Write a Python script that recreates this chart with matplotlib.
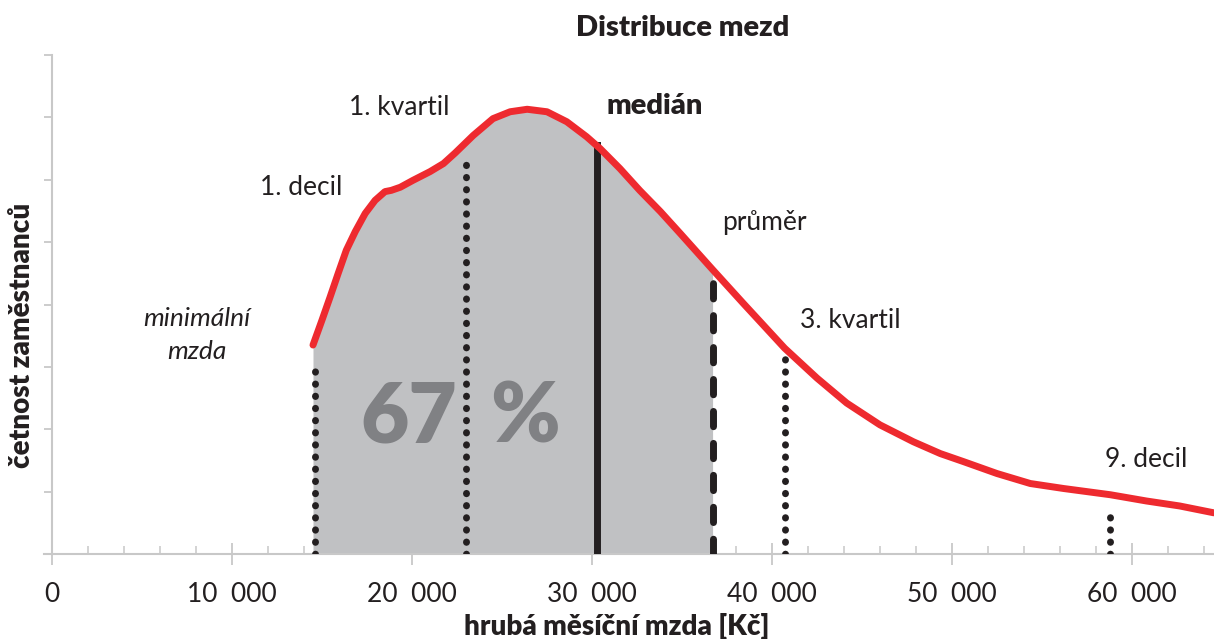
import numpy as np
import matplotlib
matplotlib.use('Agg')
import matplotlib.pyplot as plt

plt.rcParams['font.family'] = ['Lato', 'DejaVu Sans']

# wage distribution curve (Kč, relative frequency)
wage = [14500, 15000, 15450, 15900, 16350, 16850, 17400, 17950, 18500, 18850,
        19350, 20050, 21000, 21750, 22400, 23400, 24500, 25450, 26400, 27500,
        28600, 29700, 30450, 31550, 32650, 33800, 34900, 36700, 38400, 40700,
        42500, 44150, 46000, 47850, 49350, 50650, 52500, 54350, 56200, 58800,
        60800, 62650, 64550]
freq = [3.35, 3.75, 4.12, 4.50, 4.87, 5.17, 5.46, 5.67, 5.81, 5.83,
        5.88, 5.99, 6.13, 6.26, 6.43, 6.71, 6.98, 7.09, 7.13, 7.09,
        6.93, 6.69, 6.50, 6.18, 5.83, 5.49, 5.14, 4.56, 4.02, 3.30,
        2.82, 2.42, 2.07, 1.80, 1.61, 1.48, 1.29, 1.13, 1.05, 0.95,
        0.85, 0.77, 0.66]

# marker lines: 1. decil, 1. kvartil, median, prumer, 3. kvartil, 9. decil
marker_x = [14600, 23000, 30300, 36700, 40750, 58800]
marker_top = [3.08, 6.35, 6.55, 4.39, 3.29, 0.77]
mean_wage = 36700

xticks = [0, 10000, 20000, 30000, 40000, 50000, 60000]
xtick_labels = ['0', '10  000', '20  000', '30  000', '40  000', '50  000', '60  000']

red = '#ee2a2f'
dark = '#231f20'
axis_grey = '#c8c8c8'

fig = plt.figure(figsize=(12.14, 6.39), dpi=100)
ax = fig.add_axes([43.9 / 1214, 85 / 639, (1214 - 43.9) / 1214, 499 / 639])
ax.set_xlim(-450, 64556)
ax.set_ylim(0, 8)
ax.set_axisbelow(True)

w = np.array(wage)
f = np.array(freq)
mask = w <= mean_wage
ax.fill_between(w[mask], 0, f[mask], color='#c0c1c3', linewidth=0, zorder=1)

dotted = (0, (0.05, 1.7))
styles = [dotted, dotted, '-', (0, (2.2, 2.4)), dotted, dotted]
widths = [5, 5, 5, 5, 5, 5]
for xv, top, ls, lw in zip(marker_x, marker_top, styles, widths):
    ax.plot([xv, xv], [0, top], color=dark, linestyle=ls, linewidth=lw,
            dash_capstyle='round' if ls != '-' else 'butt', zorder=3)

ax.plot(wage, freq, color=red, linewidth=5, solid_capstyle='round',
        solid_joinstyle='round', zorder=4, clip_on=False)

# axes styling
for s in ['top', 'right']:
    ax.spines[s].set_visible(False)
ax.spines['left'].set_position(('data', 0))
for s in ['left', 'bottom']:
    ax.spines[s].set_color(axis_grey)
    ax.spines[s].set_linewidth(1.5)

ax.set_yticks(range(0, 9))
ax.set_yticklabels([])
ax.tick_params(axis='y', direction='out', length=6, width=1.3, color=axis_grey)

ax.set_xticks(xticks)
ax.set_xticklabels(xtick_labels, fontsize=19, color=dark)
ax.set_xticks(np.arange(2000, 64556, 2000), minor=True)
ax.tick_params(axis='x', which='major', direction='inout', length=16, width=1.3,
               color=axis_grey, pad=12)
ax.tick_params(axis='x', which='minor', direction='in', length=6, width=1.1,
               color=axis_grey)

# annotations
lab = dict(fontsize=19, color=dark, va='center')
ax.text(16111, 5.88, '1. decil', ha='right', **lab)
ax.text(16500, 7.16, '1. kvartil', ha='left', **lab)
ax.text(30778, 7.18, 'medián', ha='left', fontsize=21, fontweight='heavy',
        color=dark, va='center')
ax.text(37222, 5.32, 'průměr', ha='left', **lab)
ax.text(41556, 3.75, '3. kvartil', ha='left', **lab)
ax.text(58500, 1.51, '9. decil', ha='left', **lab)
ax.text(8056, 3.78, 'minimální', ha='center', style='italic', **lab)
ax.text(8056, 3.24, 'mzda', ha='center', style='italic', **lab)
ax.text(17111, 2.18, '67', ha='left', va='center', fontsize=60,
        fontweight='heavy', color='#808184', zorder=2)
ax.text(24333, 2.18, '%', ha='left', va='center', fontsize=60,
        fontweight='heavy', color='#808184', zorder=2)

fig.text(683 / 1214, 1 - 28 / 639, 'Distribuce mezd', ha='center', va='center',
         fontsize=21, fontweight='heavy', color=dark)
fig.text(617 / 1214, 1 - 627 / 639, 'hrubá měsíční mzda [Kč]', ha='center',
         va='center', fontsize=20, fontweight='heavy', color=dark)
fig.text(22 / 1214, 1 - 335 / 639, 'četnost zaměstnanců', ha='center',
         va='center', rotation=90, fontsize=20, fontweight='heavy', color=dark)

fig.savefig('out.png', dpi=100)
